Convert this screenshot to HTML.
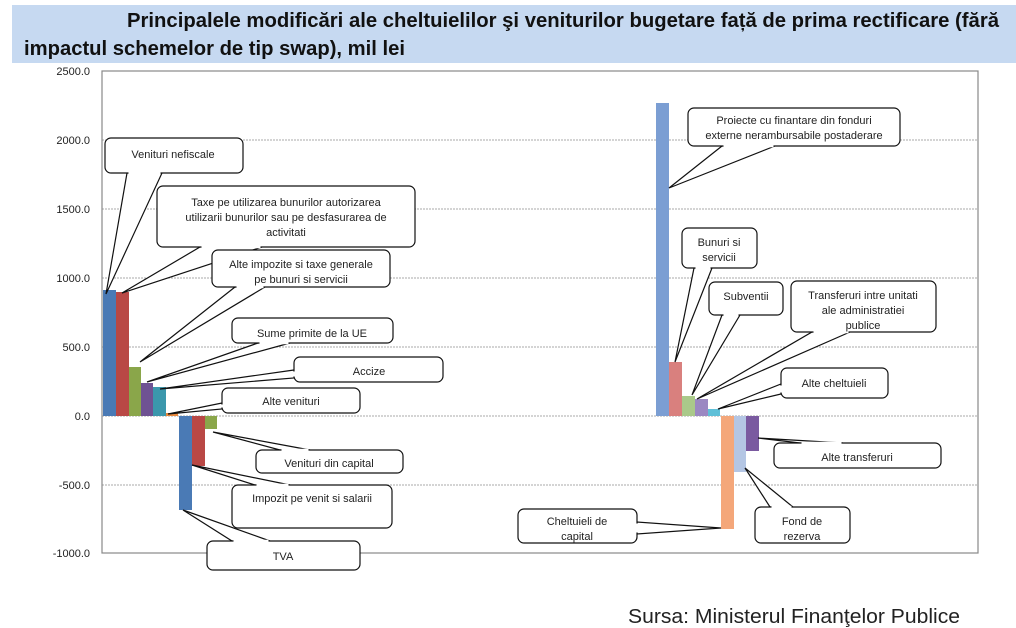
<!DOCTYPE html>
<html><head><meta charset="utf-8"><style>
body{margin:0;background:#fff;width:1016px;height:628px;overflow:hidden}
svg{display:block}
text{font-family:"Liberation Sans",sans-serif}
</style></head><body>
<svg width="1016" height="628" viewBox="0 0 1016 628">
<rect x="12" y="5" width="1004" height="58" fill="#c6d9f1"/>
<text x="127" y="27" font-size="20" font-weight="bold" fill="#111" textLength="872" lengthAdjust="spacingAndGlyphs">Principalele modificări ale cheltuielilor şi veniturilor bugetare față de prima rectificare (fără</text>
<text x="24" y="55" font-size="20" font-weight="bold" fill="#111" textLength="381" lengthAdjust="spacingAndGlyphs">impactul schemelor de tip swap), mil lei</text>
<g stroke="#aaa" stroke-dasharray="2,1" stroke-width="1">
<line x1="102" y1="140" x2="978" y2="140"/><line x1="102" y1="209" x2="978" y2="209"/>
<line x1="102" y1="278" x2="978" y2="278"/><line x1="102" y1="347" x2="978" y2="347"/>
<line x1="102" y1="416" x2="978" y2="416"/><line x1="102" y1="485" x2="978" y2="485"/>
</g>
<rect x="102" y="71" width="876" height="482" fill="none" stroke="#888" stroke-width="1.2"/>
<g font-size="11" fill="#222" text-anchor="end">
<text x="90" y="75">2500.0</text><text x="90" y="144">2000.0</text><text x="90" y="213">1500.0</text>
<text x="90" y="282">1000.0</text><text x="90" y="351">500.0</text><text x="90" y="420">0.0</text>
<text x="90" y="489">-500.0</text><text x="90" y="557">-1000.0</text>
</g>
<rect x="103" y="290" width="13" height="126" fill="#4a7ab5"/>
<rect x="116" y="292" width="13" height="124" fill="#b94845"/>
<rect x="129" y="367" width="12" height="49" fill="#8aa64a"/>
<rect x="141" y="383" width="12" height="33" fill="#6f5293"/>
<rect x="153" y="387" width="13" height="29" fill="#3b97ac"/>
<rect x="166" y="413" width="12" height="3" fill="#e8883c"/>
<rect x="179" y="416" width="13" height="94" fill="#4a7ab5"/>
<rect x="192" y="416" width="13" height="50" fill="#b94845"/>
<rect x="205" y="416" width="12" height="13" fill="#8aa64a"/>
<rect x="656" y="103" width="13" height="313" fill="#7b9ed3"/>
<rect x="669" y="362" width="13" height="54" fill="#d9807e"/>
<rect x="682" y="396" width="13" height="20" fill="#aac98a"/>
<rect x="695" y="399" width="13" height="17" fill="#9b88c2"/>
<rect x="708" y="409" width="12" height="7" fill="#5fc0d8"/>
<rect x="721" y="416" width="13" height="113" fill="#f4a77a"/>
<rect x="734" y="416" width="12" height="56" fill="#b4c6e4"/>
<rect x="746" y="416" width="13" height="35" fill="#7a5aa0"/>
<g stroke="#111" stroke-width="1.2" fill="#fff">
<polygon points="127,173 162,173 106,294"/><rect x="105" y="138" width="138" height="35" rx="6"/>
<polygon points="200,247 262,247 122,293"/><rect x="157" y="186" width="258" height="61" rx="6"/>
<polygon points="235,287 265,287 140,362"/><rect x="212" y="250" width="178" height="37" rx="6"/>
<polygon points="258,343 290,343 147,382"/><rect x="232" y="318" width="161" height="25" rx="6"/>
<polygon points="294,370 294,378 160,389"/><rect x="294" y="357" width="149" height="25" rx="6"/>
<polygon points="222,403 222,409 168,414"/><rect x="222" y="388" width="138" height="25" rx="6"/>
<polygon points="280,450 310,450 213,432"/><rect x="256" y="450" width="147" height="23" rx="6"/>
<polygon points="255,485 290,485 192,465"/><rect x="232" y="485" width="160" height="43" rx="6"/>
<polygon points="232,541 270,541 183,510"/><rect x="207" y="541" width="153" height="29" rx="6"/>
<polygon points="722,146 775,146 669,188"/><rect x="688" y="108" width="212" height="38" rx="6"/>
<polygon points="694,268 712,268 675,362"/><rect x="682" y="228" width="75" height="40" rx="6"/>
<polygon points="722,315 740,315 692,395"/><rect x="709" y="282" width="74" height="33" rx="6"/>
<polygon points="812,332 850,332 697,399"/><rect x="791" y="281" width="145" height="51" rx="6"/>
<polygon points="781,384 781,394 718,409"/><rect x="781" y="368" width="107" height="30" rx="6"/>
<polygon points="800,443 843,443 758,438"/><rect x="774" y="443" width="167" height="25" rx="6"/>
<polygon points="770,507 793,507 745,468"/><rect x="755" y="507" width="95" height="36" rx="6"/>
<polygon points="637,522 637,534 721,528"/><rect x="518" y="509" width="119" height="34" rx="6"/>
</g>
<g stroke="#fff" stroke-width="2.6">
<line x1="128.5" y1="173" x2="160.5" y2="173"/>
<line x1="201.5" y1="247" x2="260.5" y2="247"/>
<line x1="236.5" y1="287" x2="263.5" y2="287"/>
<line x1="259.5" y1="343" x2="288.5" y2="343"/>
<line x1="294" y1="371.5" x2="294" y2="376.5"/>
<line x1="222" y1="404.5" x2="222" y2="407.5"/>
<line x1="281.5" y1="450" x2="308.5" y2="450"/>
<line x1="256.5" y1="485" x2="288.5" y2="485"/>
<line x1="233.5" y1="541" x2="268.5" y2="541"/>
<line x1="723.5" y1="146" x2="773.5" y2="146"/>
<line x1="695.5" y1="268" x2="710.5" y2="268"/>
<line x1="723.5" y1="315" x2="738.5" y2="315"/>
<line x1="813.5" y1="332" x2="848.5" y2="332"/>
<line x1="781" y1="385.5" x2="781" y2="392.5"/>
<line x1="801.5" y1="443" x2="841.5" y2="443"/>
<line x1="771.5" y1="507" x2="791.5" y2="507"/>
<line x1="637" y1="523.5" x2="637" y2="532.5"/>
</g>
<g font-size="11" fill="#222" text-anchor="middle">
<text x="173" y="158">Venituri nefiscale</text>
<text x="286" y="206">Taxe pe utilizarea bunurilor autorizarea</text>
<text x="286" y="221">utilizarii bunurilor sau pe desfasurarea de</text>
<text x="286" y="236">activitati</text>
<text x="301" y="268">Alte impozite si taxe generale</text>
<text x="301" y="283">pe bunuri si servicii</text>
<text x="312" y="337">Sume primite de la UE</text>
<text x="369" y="375">Accize</text>
<text x="291" y="405">Alte venituri</text>
<text x="329" y="467">Venituri din capital</text>
<text x="312" y="502">Impozit pe  venit si salarii</text>
<text x="283" y="560">TVA</text>
<text x="794" y="124">Proiecte cu finantare din fonduri</text>
<text x="794" y="139">externe nerambursabile postaderare</text>
<text x="719" y="246">Bunuri si</text>
<text x="719" y="261">servicii</text>
<text x="746" y="300">Subventii</text>
<text x="863" y="299">Transferuri intre unitati</text>
<text x="863" y="314">ale administratiei</text>
<text x="863" y="329">publice</text>
<text x="834" y="387">Alte cheltuieli</text>
<text x="857" y="461">Alte transferuri</text>
<text x="802" y="525">Fond de</text>
<text x="802" y="540">rezerva</text>
<text x="577" y="525">Cheltuieli de</text>
<text x="577" y="540">capital</text>
</g>
<text x="628" y="623" font-size="20" fill="#222" textLength="332" lengthAdjust="spacingAndGlyphs">Sursa: Ministerul Finanţelor Publice</text>
</svg>
</body></html>
